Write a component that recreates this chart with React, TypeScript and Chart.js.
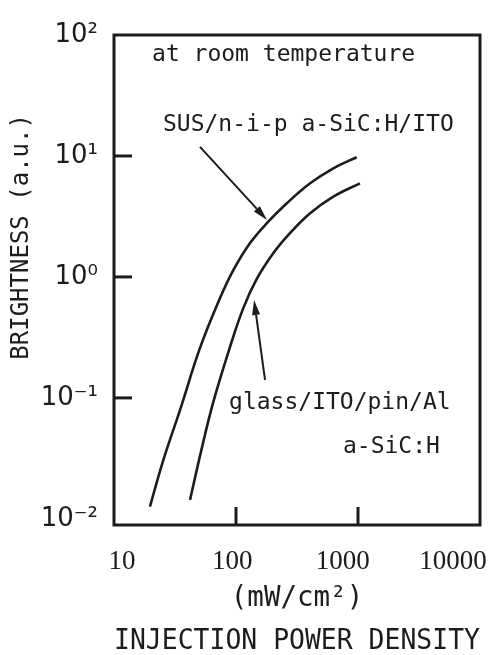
import { useEffect, useRef } from "react";
import { Chart, registerables } from "chart.js";

Chart.register(...registerables);

// ---- data ----
const SUS_X = [19.7, 25.4, 34.8, 50.7, 74.0, 95.1, 130, 179, 261, 405, 628, 975];
const SUS_Y = [0.01265, 0.0308, 0.0796, 0.259, 0.67, 1.14, 1.9, 2.78, 4.06, 5.94, 7.91, 9.76];
const GLASS_X = [42.0, 51.6, 65.2, 89.3, 115, 148, 202, 277, 405, 628, 1038];
const GLASS_Y = [0.01435, 0.0358, 0.0927, 0.264, 0.555, 0.963, 1.57, 2.3, 3.36, 4.61, 5.94];

const X_TICKS = [10, 100, 1000, 10000];
const X_TICK_LABELS = ["10", "100", "1000", "10000"];
const Y_TICKS = [0.01, 0.1, 1, 10, 100];
const Y_TICK_LABELS = ["10⁻²", "10⁻¹", "10⁰", "10¹", "10²"];
const X_INNER_TICKS = [100, 1000];
const Y_INNER_TICKS = [0.1, 1, 10];

const X_TITLE = ["(mW/cm²)", "INJECTION POWER DENSITY"];
const Y_TITLE = "BRIGHTNESS (a.u.)";

// annotation texts, anchored in data coordinates (left edge, vertical middle)
const NOTE_TEXT = ["at room temperature", "SUS/n-i-p a-SiC:H/ITO", "glass/ITO/pin/Al", "a-SiC:H"];
const NOTE_X = [20.5, 25.2, 87.7, 753];
const NOTE_Y = [68.4, 18.0, 0.091, 0.0394];

// arrows: from (x0,y0) to tip (x1,y1), data coordinates
const ARROW_X0 = [50.7, 173];
const ARROW_Y0 = [11.9, 0.141];
const ARROW_X1 = [179.5, 140.6];
const ARROW_Y1 = [2.96, 0.645];

const INK = "#1c1c1c";
const MONO = '"DejaVu Sans Mono", "Liberation Mono", monospace';

const decorPlugin = {
  id: "decor",
  afterDraw(chart: any) {
    const { ctx, chartArea: a, scales } = chart;
    const xs = scales.x;
    const ys = scales.y;
    ctx.save();
    ctx.strokeStyle = INK;
    ctx.fillStyle = INK;
    ctx.lineWidth = 3;
    ctx.lineCap = "butt";
    ctx.strokeRect(a.left, a.top, a.right - a.left, a.bottom - a.top);

    // inner tick marks
    for (const v of Y_INNER_TICKS) {
      const py = ys.getPixelForValue(v);
      ctx.beginPath();
      ctx.moveTo(a.left, py);
      ctx.lineTo(a.left + 18, py);
      ctx.stroke();
    }
    for (const v of X_INNER_TICKS) {
      const px = xs.getPixelForValue(v);
      ctx.beginPath();
      ctx.moveTo(px, a.bottom);
      ctx.lineTo(px, a.bottom - 18);
      ctx.stroke();
    }

    // annotation text
    ctx.font = "23px " + MONO;
    ctx.textAlign = "left";
    ctx.textBaseline = "middle";
    NOTE_TEXT.forEach((t, i) => {
      ctx.fillText(t, xs.getPixelForValue(NOTE_X[i]), ys.getPixelForValue(NOTE_Y[i]));
    });

    // arrows
    ctx.lineWidth = 2;
    for (let i = 0; i < ARROW_X0.length; i++) {
      const x0 = xs.getPixelForValue(ARROW_X0[i]);
      const y0 = ys.getPixelForValue(ARROW_Y0[i]);
      const x1 = xs.getPixelForValue(ARROW_X1[i]);
      const y1 = ys.getPixelForValue(ARROW_Y1[i]);
      const ang = Math.atan2(y1 - y0, x1 - x0);
      const hl = 15;
      const hw = 4;
      const bx = x1 - hl * Math.cos(ang);
      const by = y1 - hl * Math.sin(ang);
      ctx.beginPath();
      ctx.moveTo(x0, y0);
      ctx.lineTo(bx, by);
      ctx.stroke();
      ctx.beginPath();
      ctx.moveTo(x1, y1);
      ctx.lineTo(bx + hw * Math.sin(ang), by - hw * Math.cos(ang));
      ctx.lineTo(bx - hw * Math.sin(ang), by + hw * Math.cos(ang));
      ctx.closePath();
      ctx.fill();
    }

    // y axis title (rotated)
    ctx.font = "24px " + MONO;
    ctx.textAlign = "center";
    ctx.textBaseline = "middle";
    ctx.translate(ys.left + 22, a.top + 0.412 * (a.bottom - a.top));
    ctx.rotate(-Math.PI / 2);
    ctx.fillText(Y_TITLE, 0, 0);
    ctx.restore();
  },
};

export default function App() {
  const ref = useRef<HTMLCanvasElement | null>(null);

  useEffect(() => {
    if (!ref.current) return;
    const chart = new Chart(ref.current, {
      type: "line",
      data: {
        datasets: [
          {
            label: "SUS/n-i-p a-SiC:H/ITO",
            data: SUS_X.map((x, i) => ({ x, y: SUS_Y[i] })),
            borderColor: INK,
            borderWidth: 2.6,
            pointRadius: 0,
            tension: 0.4,
            fill: false,
          },
          {
            label: "glass/ITO/pin/Al a-SiC:H",
            data: GLASS_X.map((x, i) => ({ x, y: GLASS_Y[i] })),
            borderColor: INK,
            borderWidth: 2.6,
            pointRadius: 0,
            tension: 0.4,
            fill: false,
          },
        ],
      },
      options: {
        responsive: false,
        animation: false,
        layout: { padding: { left: 0, right: 16, top: 35, bottom: 0 } },
        plugins: {
          legend: { display: false },
          tooltip: { enabled: false },
        },
        scales: {
          x: {
            type: "logarithmic",
            min: 10,
            max: 10000,
            display: false,
          },
          x2: {
            type: "logarithmic",
            position: "bottom",
            min: 8.46,
            max: 17566,
            grid: { display: false },
            border: { display: false },
            afterBuildTicks: (s: any) => {
              s.ticks = X_TICKS.map((v) => ({ value: v }));
            },
            afterFit: (s: any) => {
              s.height = 130;
              s.paddingLeft = 0;
              s.paddingRight = 0;
            },
            ticks: {
              padding: 13,
              maxRotation: 0,
              autoSkip: false,
              color: INK,
              font: { family: '"Liberation Serif", serif', size: 27 },
              callback: (v: any) => X_TICK_LABELS[X_TICKS.indexOf(Number(v))] ?? "",
            },
            title: {
              display: true,
              text: X_TITLE,
              color: INK,
              padding: { top: 0, bottom: -8 },
              font: { family: MONO, size: 27.5, lineHeight: 1.55 },
            },
          },
          y: {
            type: "logarithmic",
            min: 0.0089,
            max: 100,
            grid: { display: false, drawTicks: false },
            border: { display: false },
            afterBuildTicks: (s: any) => {
              s.ticks = Y_TICKS.map((v) => ({ value: v }));
            },
            afterFit: (s: any) => {
              s.width = 114;
            },
            ticks: {
              padding: 16,
              autoSkip: false,
              color: INK,
              font: { family: '"DejaVu Sans", sans-serif', size: 26 },
              callback: (v: any) => Y_TICK_LABELS[Y_TICKS.indexOf(Number(v))] ?? "",
            },
          },
        },
      },
      plugins: [decorPlugin],
    });
    return () => chart.destroy();
  }, []);

  return (
    <canvas
      ref={ref}
      width={496}
      height={655}
      style={{ position: "fixed", left: 0, top: 0, width: 496, height: 655, display: "block", background: "#ffffff" }}
    />
  );
}
